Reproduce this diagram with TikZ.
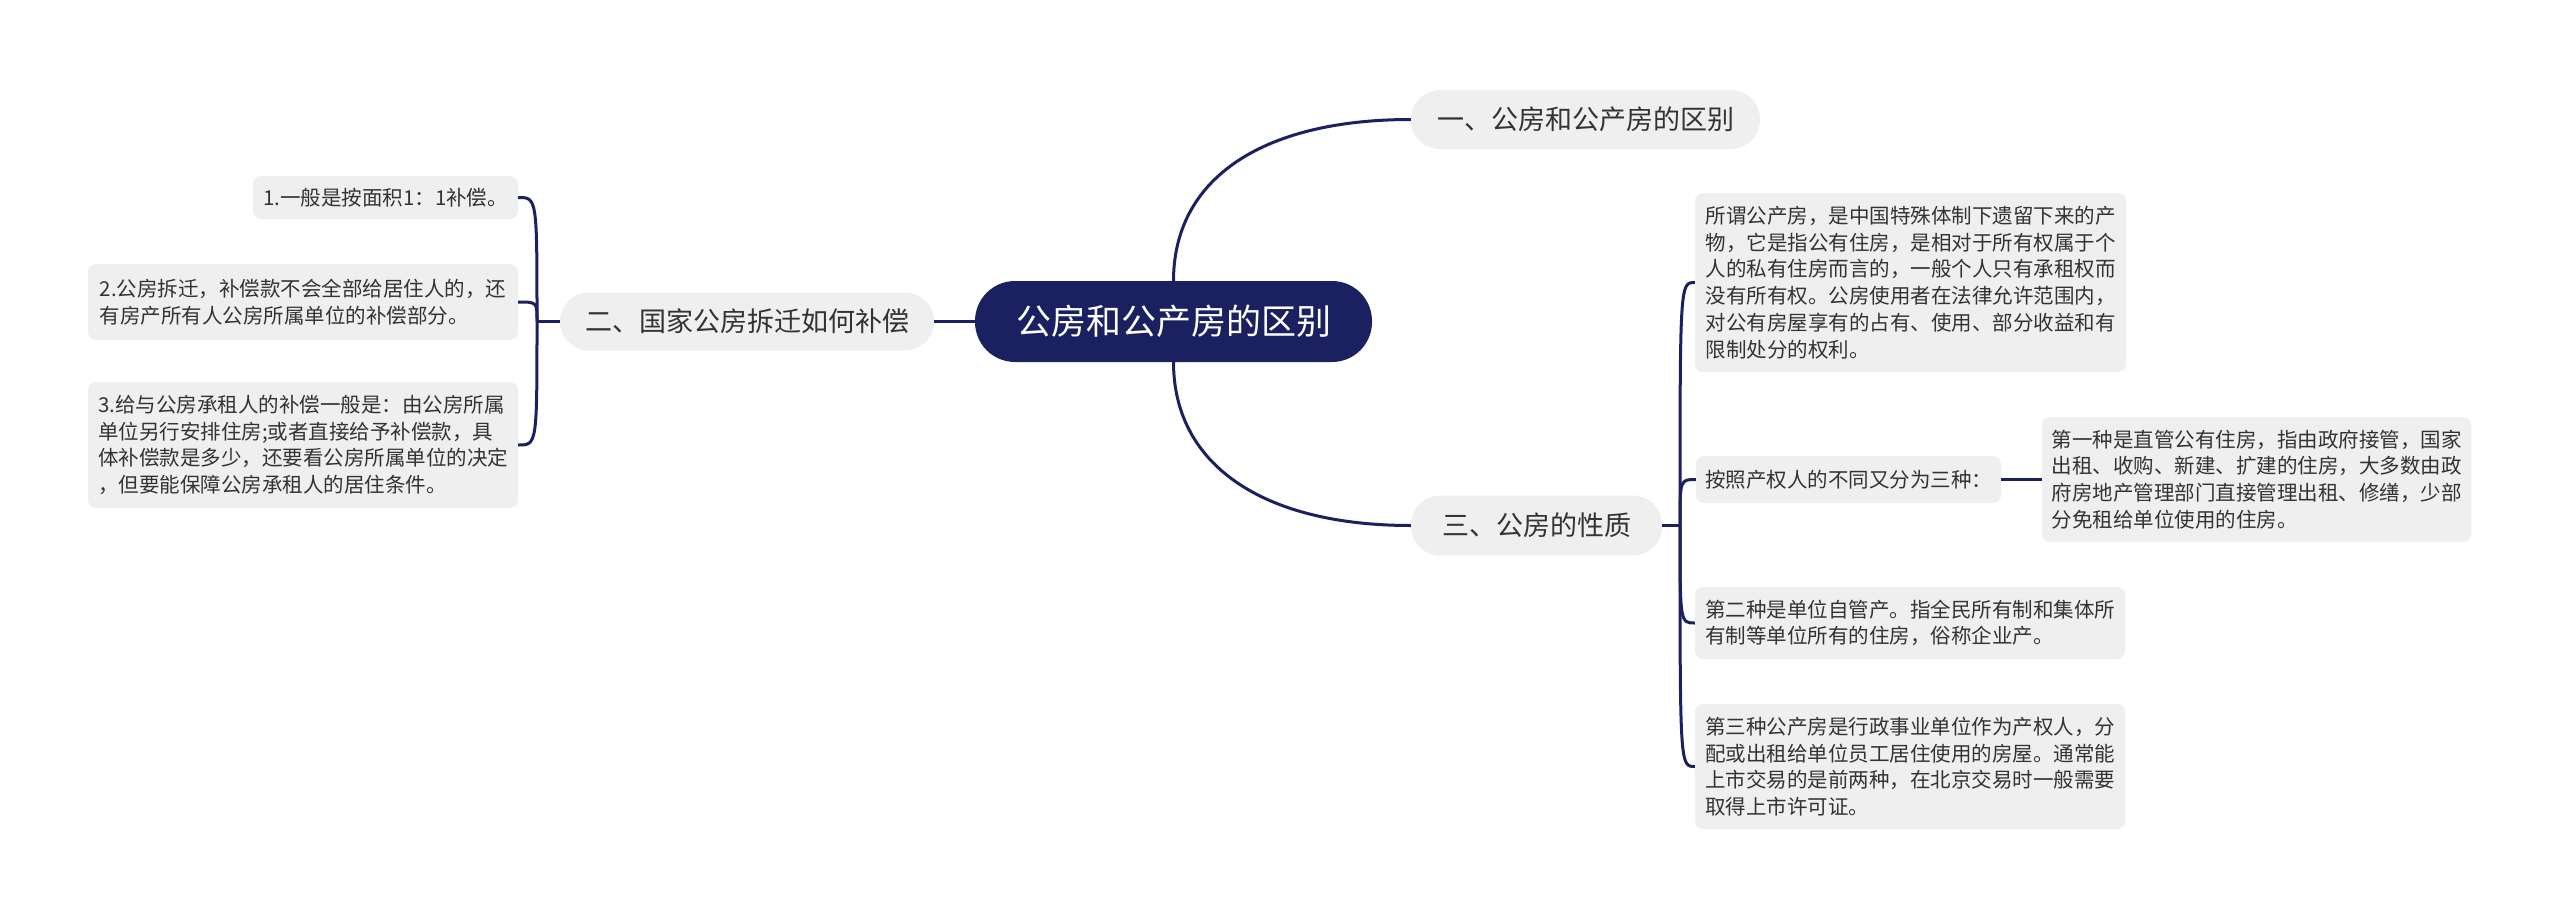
\documentclass[tikz,border=0pt]{standalone}
\usepackage{fontspec}
\newfontfamily\cjk{Noto Sans CJK SC}
\definecolor{navy}{HTML}{1A2060}
\definecolor{boxgray}{HTML}{EFEFEF}
\definecolor{txt}{HTML}{333333}
\begin{document}
\begin{tikzpicture}[x=1pt,y=-1pt,
  conn/.style={draw=navy, line width=3pt},
  rootbox/.style={fill=navy, text=white, rounded corners=40pt, inner sep=0pt, font=\cjk\fontsize{35}{42}\selectfont},
  branchbox/.style={fill=boxgray, text=txt, rounded corners=29pt, inner sep=0pt, minimum height=59pt, font=\cjk\fontsize{27}{32}\selectfont},
  leafbox/.style={fill=boxgray, text=txt, rounded corners=8pt, inner sep=0pt, align=left, font=\cjk\fontsize{20.5}{26.7}\selectfont},
]
\useasboundingbox (0,0) rectangle (2560,918);
\fill[white] (0,0) rectangle (2560,918);

\node[rootbox, minimum width=397pt, minimum height=81pt] (root) at (1173.5,321.5) {公房和公产房的区别};

\node[branchbox, minimum width=349pt] (b1) at (1585.5,119.5) {一、公房和公产房的区别};
\node[branchbox, minimum width=374pt, minimum height=58pt] (b2) at (747,321.5) {二、国家公房拆迁如何补偿};
\node[branchbox, minimum width=251pt, minimum height=60pt] (b3) at (1536.5,525.5) {三、公房的性质};

\node[leafbox, minimum width=265pt, minimum height=43pt] (l1) at (385.5,197.5) {1.一般是按面积1：1补偿。};
\node[leafbox, minimum width=430pt, minimum height=76pt] (l2) at (303,302) {2.公房拆迁，补偿款不会全部给居住人的，还\\有房产所有人公房所属单位的补偿部分。};
\node[leafbox, minimum width=430pt, minimum height=126pt] (l3) at (303,445) {3.给与公房承租人的补偿一般是：由公房所属\\单位另行安排住房;或者直接给予补偿款，具\\体补偿款是多少，还要看公房所属单位的决定\\，但要能保障公房承租人的居住条件。};

\node[leafbox, minimum width=431pt, minimum height=179pt] (r1) at (1910.5,282.5) {所谓公产房，是中国特殊体制下遗留下来的产\\物，它是指公有住房，是相对于所有权属于个\\人的私有住房而言的，一般个人只有承租权而\\没有所有权。公房使用者在法律允许范围内，\\对公有房屋享有的占有、使用、部分收益和有\\限制处分的权利。};
\node[leafbox, minimum width=305pt, minimum height=47pt] (r2) at (1848.5,479.5) {按照产权人的不同又分为三种：};
\node[leafbox, minimum width=429pt, minimum height=125pt] (r2a) at (2256.5,479.5) {第一种是直管公有住房，指由政府接管，国家\\出租、收购、新建、扩建的住房，大多数由政\\府房地产管理部门直接管理出租、修缮，少部\\分免租给单位使用的住房。};
\node[leafbox, minimum width=430pt, minimum height=72pt] (r3) at (1910,623) {第二种是单位自管产。指全民所有制和集体所\\有制等单位所有的住房，俗称企业产。};
\node[leafbox, minimum width=430pt, minimum height=125pt] (r4) at (1910,766.5) {第三种公产房是行政事业单位作为产权人，分\\配或出租给单位员工居住使用的房屋。通常能\\上市交易的是前两种，在北京交易时一般需要\\取得上市许可证。};

\coordinate (lj) at (537,321.5);
\coordinate (rj) at (1680,525.5);

\draw[conn] (root.north) .. controls (1173.5,180) and (1260,119.5) .. (b1.west);
\draw[conn] (root.south) .. controls (1173.5,463) and (1260,525.5) .. (b3.west);
\draw[conn] (root.west) -- (b2.east);

\draw[conn] (b2.west) -- (lj);
\draw[conn] (lj) .. controls (lj |- l1.east) .. (l1.east);
\draw[conn] (lj) .. controls (lj |- l2.east) .. (l2.east);
\draw[conn] (lj) .. controls (lj |- l3.east) .. (l3.east);

\draw[conn] (b3.east) -- (rj);
\draw[conn] (rj) .. controls (rj |- r1.west) .. (r1.west);
\draw[conn] (rj) .. controls (rj |- r2.west) .. (r2.west);
\draw[conn] (rj) .. controls (rj |- r3.west) .. (r3.west);
\draw[conn] (rj) .. controls (rj |- r4.west) .. (r4.west);
\draw[conn] (r2.east) -- (r2a.west);
\end{tikzpicture}
\end{document}
